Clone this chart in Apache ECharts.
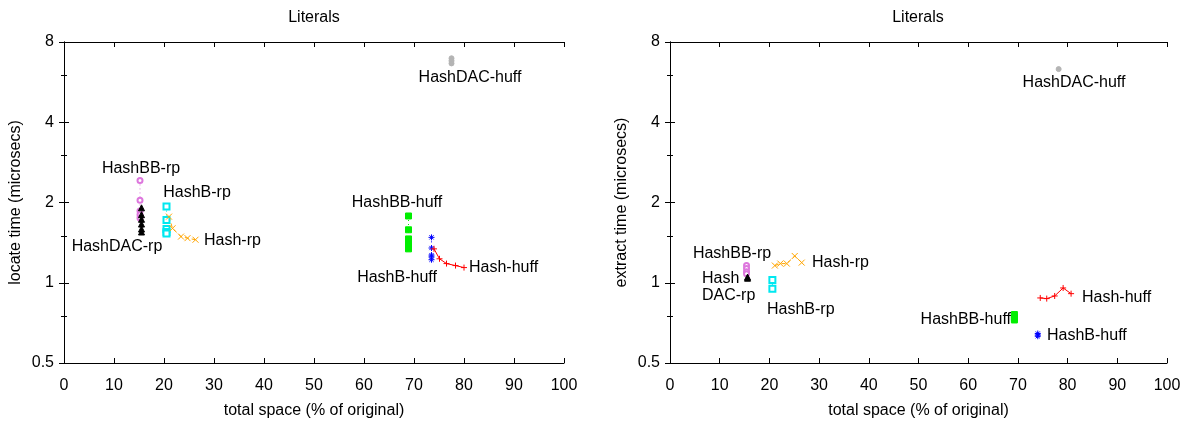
<!DOCTYPE html>
<html>
<head>
<meta charset="utf-8">
<script src="https://cdn.jsdelivr.net/npm/echarts@6/dist/echarts.min.js"></script>
<style>
  html, body { margin: 0; padding: 0; background: #fff; }
  #main { width: 1202px; height: 424px; }
</style>
</head>
<body>
<div id="main"></div>
<script>
// ---- data (x = % of original, y = microsecs) ----
var xTicks = [0, 10, 20, 30, 40, 50, 60, 70, 80, 90, 100];
var yTicks = [0.5, 1, 2, 4, 8];

// left: locate time
var locHashBBrpX = 15.2,  locHashBBrpY = [2.42, 2.04, 1.86, 1.80, 1.75];
var locHashDACrpX = 15.5, locHashDACrpY = [1.91, 1.80, 1.73, 1.66, 1.59, 1.55];
var locHashBrpX = 20.5,   locHashBrpY = [1.93, 1.72, 1.59, 1.55, 1.53];
var locHashrpX = [21.0, 21.7, 23.4, 24.7, 26.3], locHashrpY = [1.77, 1.60, 1.49, 1.47, 1.45];
var locHashBBhuffX = 68.9, locHashBBhuffY = [1.78, 1.58, 1.46, 1.42, 1.38, 1.34];
var locHashBhuffX = 73.5,  locHashBhuffY = [1.48, 1.35, 1.27, 1.25, 1.22];
var locHashhuffX = [74.0, 75.1, 76.5, 78.3, 80.0], locHashhuffY = [1.34, 1.23, 1.18, 1.16, 1.14];
var locHashDAChuffX = 77.5, locHashDAChuffY = [6.95, 6.8, 6.65];

// right: extract time
var extHashBBrpX = 15.4,  extHashBBrpY = [1.16, 1.13, 1.10, 1.08];
var extHashDACrpX = 15.6, extHashDACrpY = [1.05, 1.04];
var extHashBrpX = 20.6,   extHashBrpY = [1.025, 0.95];
var extHashrpX = [21.1, 22.2, 23.5, 25.1, 26.5], extHashrpY = [1.16, 1.18, 1.18, 1.26, 1.19];
var extHashBBhuffX = 69.3, extHashBBhuffY = [0.76, 0.745, 0.735, 0.725];
var extHashBhuffX = 74.0,  extHashBhuffY = [0.645, 0.637, 0.63];
var extHashhuffX = [74.5, 75.8, 77.4, 79.1, 80.7], extHashhuffY = [0.877, 0.872, 0.892, 0.956, 0.91];
var extHashDAChuffX = 78.2, extHashDAChuffY = [6.33];

var FONT = 'Liberation Sans, Arial, sans-serif';

// gnuplot-like point types
var P_X = 'path://M0,0L10,10M10,0L0,10';
var P_PLUS = 'path://M5,0L5,10M0,5L10,5';
var P_STAR = 'path://M5,0L5,10M0,5L10,5M1.5,1.5L8.5,8.5M8.5,1.5L1.5,8.5';

var styles = {
  BBrp:    { color: '#dd77dd', symbol: 'emptyCircle', size: 5, dash: [1, 3] },
  DACrp:   { color: '#000000', symbol: 'triangle', size: 6, dash: 'solid' },
  Brp:     { color: '#00e8f0', symbol: 'emptyRect', size: 6, dash: [1, 3] },
  Hashrp:  { color: '#ffa500', symbol: P_X, size: 6, dash: [4, 3] },
  BBhuff:  { color: '#00ee00', symbol: 'rect', size: 6, dash: [1, 3] },
  Bhuff:   { color: '#0000ff', symbol: P_STAR, size: 6, dash: [1, 3] },
  Hashhuff:{ color: '#ff0000', symbol: P_PLUS, size: 6, dash: 'solid' },
  DAChuff: { color: '#b4b4b4', symbol: 'circle', size: 5, dash: 'solid' }
};

function mk(g, name, xs, ys, st) {
  var data = ys.map(function (y, i) { return [Array.isArray(xs) ? xs[i] : xs, y]; });
  return {
    type: 'line', name: name,
    xAxisIndex: 2 * g, yAxisIndex: 2 * g,
    data: data,
    symbol: st.symbol, symbolSize: st.size,
    showAllSymbol: true,
    lineStyle: { color: st.color, width: 1, type: st.dash },
    itemStyle: { color: st.color, borderColor: st.color, borderWidth: 1 },
    emphasis: { disabled: true },
    silent: true,
    z: 3
  };
}

var grids = [
  { left: 64, top: 42, width: 500, height: 323 },
  { left: 670, top: 42, width: 497, height: 323 }
];

var axisLine = { show: true, lineStyle: { color: '#000', width: 1 } };
var tick = { show: true, inside: true, length: 5, lineStyle: { color: '#000' } };
var lbl = { color: '#000', fontSize: 16, fontFamily: FONT };

var xAxes = [], yAxes = [];
var yNames = ['locate time (microsecs)', 'extract time (microsecs)'];
[0, 1].forEach(function (g) {
  xAxes.push({
    type: 'value', gridIndex: g, min: xTicks[0], max: xTicks[xTicks.length - 1], interval: 10,
    position: 'bottom',
    name: 'total space (% of original)', nameLocation: 'middle', nameGap: 40,
    nameTextStyle: lbl,
    axisLine: axisLine, axisTick: tick, splitLine: { show: false },
    axisLabel: Object.assign({ margin: 15 }, lbl)
  });
  xAxes.push({
    type: 'value', gridIndex: g, min: 0, max: 100, interval: 10, position: 'top',
    axisLine: axisLine, axisTick: tick, splitLine: { show: false }, axisLabel: { show: false }
  });
  yAxes.push({
    type: 'log', logBase: 2, gridIndex: g, min: yTicks[0], max: yTicks[yTicks.length - 1],
    position: 'left',
    name: yNames[g], nameLocation: 'middle', nameGap: 40, nameTextStyle: lbl,
    axisLine: axisLine, axisTick: tick,
    minorTick: { show: true, splitNumber: 2, length: 3, lineStyle: { color: '#000' } },
    splitLine: { show: false },
    axisLabel: Object.assign({ margin: 10, formatter: function (v) { return String(v); } }, lbl)
  });
  yAxes.push({
    type: 'log', logBase: 2, gridIndex: g, min: 0.5, max: 8, position: 'right',
    axisLine: axisLine, axisTick: tick,
    minorTick: { show: true, splitNumber: 2, length: 3, lineStyle: { color: '#000' } },
    splitLine: { show: false }, axisLabel: { show: false }
  });
});

var series = [
  mk(0, 'HashBB-rp', locHashBBrpX, locHashBBrpY, styles.BBrp),
  mk(0, 'HashDAC-rp', locHashDACrpX, locHashDACrpY, styles.DACrp),
  mk(0, 'HashB-rp', locHashBrpX, locHashBrpY, styles.Brp),
  mk(0, 'Hash-rp', locHashrpX, locHashrpY, styles.Hashrp),
  mk(0, 'HashBB-huff', locHashBBhuffX, locHashBBhuffY, styles.BBhuff),
  mk(0, 'HashB-huff', locHashBhuffX, locHashBhuffY, styles.Bhuff),
  mk(0, 'Hash-huff', locHashhuffX, locHashhuffY, styles.Hashhuff),
  mk(0, 'HashDAC-huff', locHashDAChuffX, locHashDAChuffY, styles.DAChuff),
  mk(1, 'HashBB-rp', extHashBBrpX, extHashBBrpY, styles.BBrp),
  mk(1, 'HashDAC-rp', extHashDACrpX, extHashDACrpY, styles.DACrp),
  mk(1, 'HashB-rp', extHashBrpX, extHashBrpY, styles.Brp),
  mk(1, 'Hash-rp', extHashrpX, extHashrpY, styles.Hashrp),
  mk(1, 'HashBB-huff', extHashBBhuffX, extHashBBhuffY, styles.BBhuff),
  mk(1, 'HashB-huff', extHashBhuffX, extHashBhuffY, styles.Bhuff),
  mk(1, 'Hash-huff', extHashhuffX, extHashhuffY, styles.Hashhuff),
  mk(1, 'HashDAC-huff', extHashDAChuffX, extHashDAChuffY, styles.DAChuff)
];

// text labels placed next to the point groups
function txt(s, x, y, align) {
  return {
    type: 'text', x: x, y: y, silent: true, z: 10,
    style: { text: s, font: '16px ' + FONT, fill: '#000',
             align: align || 'center', verticalAlign: 'middle',
             textAlign: align || 'center', textVerticalAlign: 'middle' }
  };
}

var graphics = [
  txt('Literals', 314, 18),
  txt('Literals', 918, 18),
  txt('HashBB-rp', 141, 169),
  txt('HashB-rp', 197, 193),
  txt('HashDAC-rp', 117, 247),
  txt('Hash-rp', 204, 241, 'left'),
  txt('HashBB-huff', 397, 203),
  txt('HashB-huff', 397, 278),
  txt('Hash-huff', 469, 268, 'left'),
  txt('HashDAC-huff', 470, 78),
  txt('HashBB-rp', 732, 254),
  txt('Hash', 702, 279, 'left'),
  txt('DAC-rp', 702, 296, 'left'),
  txt('HashB-rp', 767, 310, 'left'),
  txt('Hash-rp', 812, 263, 'left'),
  txt('HashBB-huff', 1011, 320, 'right'),
  txt('HashB-huff', 1047, 336, 'left'),
  txt('Hash-huff', 1082, 298, 'left'),
  txt('HashDAC-huff', 1074, 83)
];

var chart = echarts.init(document.getElementById('main'));
chart.setOption({
  animation: false,
  backgroundColor: '#fff',
  grid: grids,
  xAxis: xAxes,
  yAxis: yAxes,
  series: series,
  graphic: graphics
});
</script>
</body>
</html>
